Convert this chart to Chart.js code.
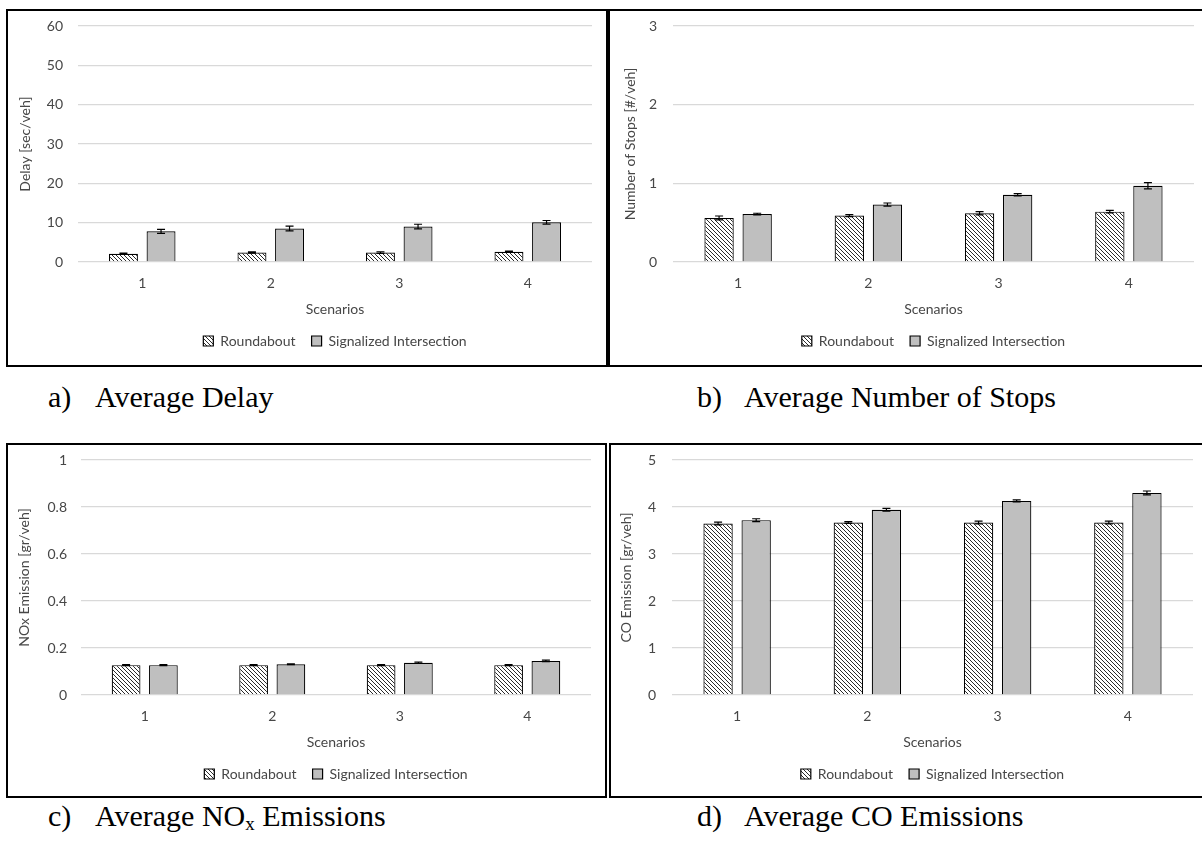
<!DOCTYPE html>
<html lang="en">
<head>
<meta charset="UTF-8">
<title>Roundabout vs Signalized Intersection</title>
<script src="https://cdn.jsdelivr.net/npm/chart.js"></script>
<style>
  body { margin: 0; background: #fff; width: 1202px; height: 842px; overflow: hidden; position: relative; }
  .panel { position: absolute; border: 2px solid #000; }
  .panel canvas { display: block; }
  .caption { position: absolute; font-family: "Liberation Serif", "Times New Roman", serif; font-size: 30px; color: #000; white-space: nowrap; line-height: 1; }
  .caption .tag { display: inline-block; width: 47px; }
  .caption sub { font-size: 19px; vertical-align: -4px; }
</style>
</head>
<body>

<div class="panel" style="left:6px; top:9px;"><canvas id="delay" width="598" height="354"></canvas></div>
<div class="panel" style="left:608px; top:9px;"><canvas id="stops" width="594" height="354"></canvas></div>
<div class="panel" style="left:6px; top:443px;"><canvas id="nox" width="597" height="351"></canvas></div>
<div class="panel" style="left:609px; top:443px;"><canvas id="co" width="595" height="351"></canvas></div>

<div class="caption" style="left:48px; top:382px;"><span class="tag">a)</span>Average Delay</div>
<div class="caption" style="left:697px; top:382px;"><span class="tag">b)</span>Average Number of Stops</div>
<div class="caption" style="left:48px; top:801px;"><span class="tag">c)</span>Average NO<sub>x</sub> Emissions</div>
<div class="caption" style="left:697px; top:801px;"><span class="tag">d)</span>Average CO Emissions</div>

<script>
// scenarios on the x axis
const scenarios = ['1', '2', '3', '4'];

// average delay [sec/veh]
const delayRoundabout = [2.1, 2.4, 2.4, 2.6];
const delayRoundaboutErr = [0.15, 0.15, 0.2, 0.15];
const delaySignal = [7.8, 8.5, 9.0, 10.1];
const delaySignalErr = [0.5, 0.6, 0.6, 0.45];

// average number of stops [#/veh]
const stopsRoundabout = [0.56, 0.59, 0.62, 0.64];
const stopsRoundaboutErr = [0.025, 0.012, 0.02, 0.015];
const stopsSignal = [0.61, 0.73, 0.855, 0.97];
const stopsSignalErr = [0.01, 0.02, 0.015, 0.04];

// NOx emission [gr/veh]
const noxRoundabout = [0.127, 0.127, 0.127, 0.127];
const noxRoundaboutErr = [0.002, 0.002, 0.002, 0.002];
const noxSignal = [0.127, 0.131, 0.137, 0.145];
const noxSignalErr = [0.002, 0.002, 0.003, 0.003];

// CO emission [gr/veh]
const coRoundabout = [3.65, 3.67, 3.67, 3.67];
const coRoundaboutErr = [0.03, 0.02, 0.03, 0.03];
const coSignal = [3.72, 3.94, 4.13, 4.30];
const coSignalErr = [0.03, 0.03, 0.02, 0.04];

const seriesNames = ['Roundabout', 'Signalized Intersection'];

const TEXT = '#474747';
const FONT = { family: 'Lato, "Open Sans", sans-serif', size: 14 };

// fine diagonal hatch for the roundabout bars
const makeHatch = () => {
    const c = document.createElement('canvas');
    c.width = 4;
    c.height = 4;
    const g = c.getContext('2d');
    g.fillStyle = '#fff';
    g.fillRect(0, 0, 4, 4);
    g.fillStyle = '#2b2b2b';
    for (let i = 0; i < 4; i++) g.fillRect(i, i, 1, 1);
    return g.createPattern(c, 'repeat');
};
const hatch = makeHatch();

// whiskers drawn from each dataset's errors array
const errorBars = {
    id: 'errorBars',
    afterDatasetsDraw(chart) {
        const ctx = chart.ctx;
        const y = chart.scales.y;
        chart.data.datasets.forEach((ds, i) => {
            chart.getDatasetMeta(i).data.forEach((bar, j) => {
                const v = ds.data[j];
                const e = ds.errors[j];
                const top = y.getPixelForValue(v + e);
                const bot = y.getPixelForValue(v - e);
                ctx.save();
                ctx.strokeStyle = '#000';
                ctx.lineWidth = 1.2;
                ctx.beginPath();
                ctx.moveTo(bar.x, top); ctx.lineTo(bar.x, bot);
                ctx.moveTo(bar.x - 4, top); ctx.lineTo(bar.x + 4, top);
                ctx.moveTo(bar.x - 4, bot); ctx.lineTo(bar.x + 4, bot);
                ctx.stroke();
                ctx.restore();
            });
        });
    }
};

const makeChart = (id, p) => {
    const canvas = document.getElementById(id);
    return new Chart(canvas, {
        type: 'bar',
        data: {
            labels: scenarios,
            datasets: [{
                label: seriesNames[0],
                data: p.roundabout,
                errors: p.roundaboutErr,
                backgroundColor: hatch,
                borderColor: '#000',
                borderWidth: 1.2,
                categoryPercentage: 0.585,
                barPercentage: 0.77
            }, {
                label: seriesNames[1],
                data: p.signal,
                errors: p.signalErr,
                backgroundColor: '#bfbfbf',
                borderColor: '#000',
                borderWidth: 1.2,
                categoryPercentage: 0.585,
                barPercentage: 0.77
            }]
        },
        options: {
            responsive: false,
            animation: false,
            layout: { padding: { left: 0, right: p.padRight, top: p.padTop, bottom: p.padBottom } },
            plugins: {
                legend: {
                    position: 'bottom',
                    fullSize: false,
                    labels: { color: TEXT, font: FONT, boxWidth: 10, boxHeight: 10, padding: 16 }
                },
                tooltip: { enabled: false }
            },
            scales: {
                x: {
                    grid: { display: false, drawTicks: false },
                    border: { display: false },
                    ticks: { color: TEXT, font: FONT, padding: 13 },
                    title: { display: true, text: 'Scenarios', color: TEXT, font: FONT, padding: { top: 9, bottom: 0 } },
                    afterFit: s => { s.height = 56; }
                },
                y: {
                    min: 0,
                    max: p.max,
                    ticks: { stepSize: p.step, color: TEXT, font: FONT, padding: 3, callback: v => v },
                    // invisible tick marks keep the labels clear of the plot without eating top space
                    grid: { color: '#d9d9d9', lineWidth: 1.3, drawTicks: true, tickLength: p.tickGap - 3, tickColor: 'rgba(0,0,0,0)' },
                    border: { display: false },
                    title: { display: true, text: p.yTitle, color: TEXT, font: FONT, padding: { top: p.yTitlePad, bottom: 0 } },
                    afterFit: s => { s.width = p.yWidth; }
                }
            }
        },
        plugins: [errorBars]
    });
};

makeChart('delay', {
    roundabout: delayRoundabout, roundaboutErr: delayRoundaboutErr,
    signal: delaySignal, signalErr: delaySignalErr,
    max: 60, step: 10, yTitle: 'Delay [sec/veh]',
    yWidth: 70, yTitlePad: 9, tickGap: 15,
    padRight: 14, padTop: 15, padBottom: 7
});

makeChart('stops', {
    roundabout: stopsRoundabout, roundaboutErr: stopsRoundaboutErr,
    signal: stopsSignal, signalErr: stopsSignalErr,
    max: 3, step: 1, yTitle: 'Number of Stops [#/veh]',
    yWidth: 63, yTitlePad: 12, tickGap: 16,
    padRight: 10, padTop: 15, padBottom: 7
});

makeChart('nox', {
    roundabout: noxRoundabout, roundaboutErr: noxRoundaboutErr,
    signal: noxSignal, signalErr: noxSignalErr,
    max: 1, step: 0.2, yTitle: 'NOx Emission [gr/veh]',
    yWidth: 73, yTitlePad: 8, tickGap: 14,
    padRight: 14, padTop: 15, padBottom: 5
});

makeChart('co', {
    roundabout: coRoundabout, roundaboutErr: coRoundaboutErr,
    signal: coSignal, signalErr: coSignalErr,
    max: 5, step: 1, yTitle: 'CO Emission [gr/veh]',
    yWidth: 61, yTitlePad: 7, tickGap: 16,
    padRight: 13, padTop: 15, padBottom: 5
});
</script>
</body>
</html>
